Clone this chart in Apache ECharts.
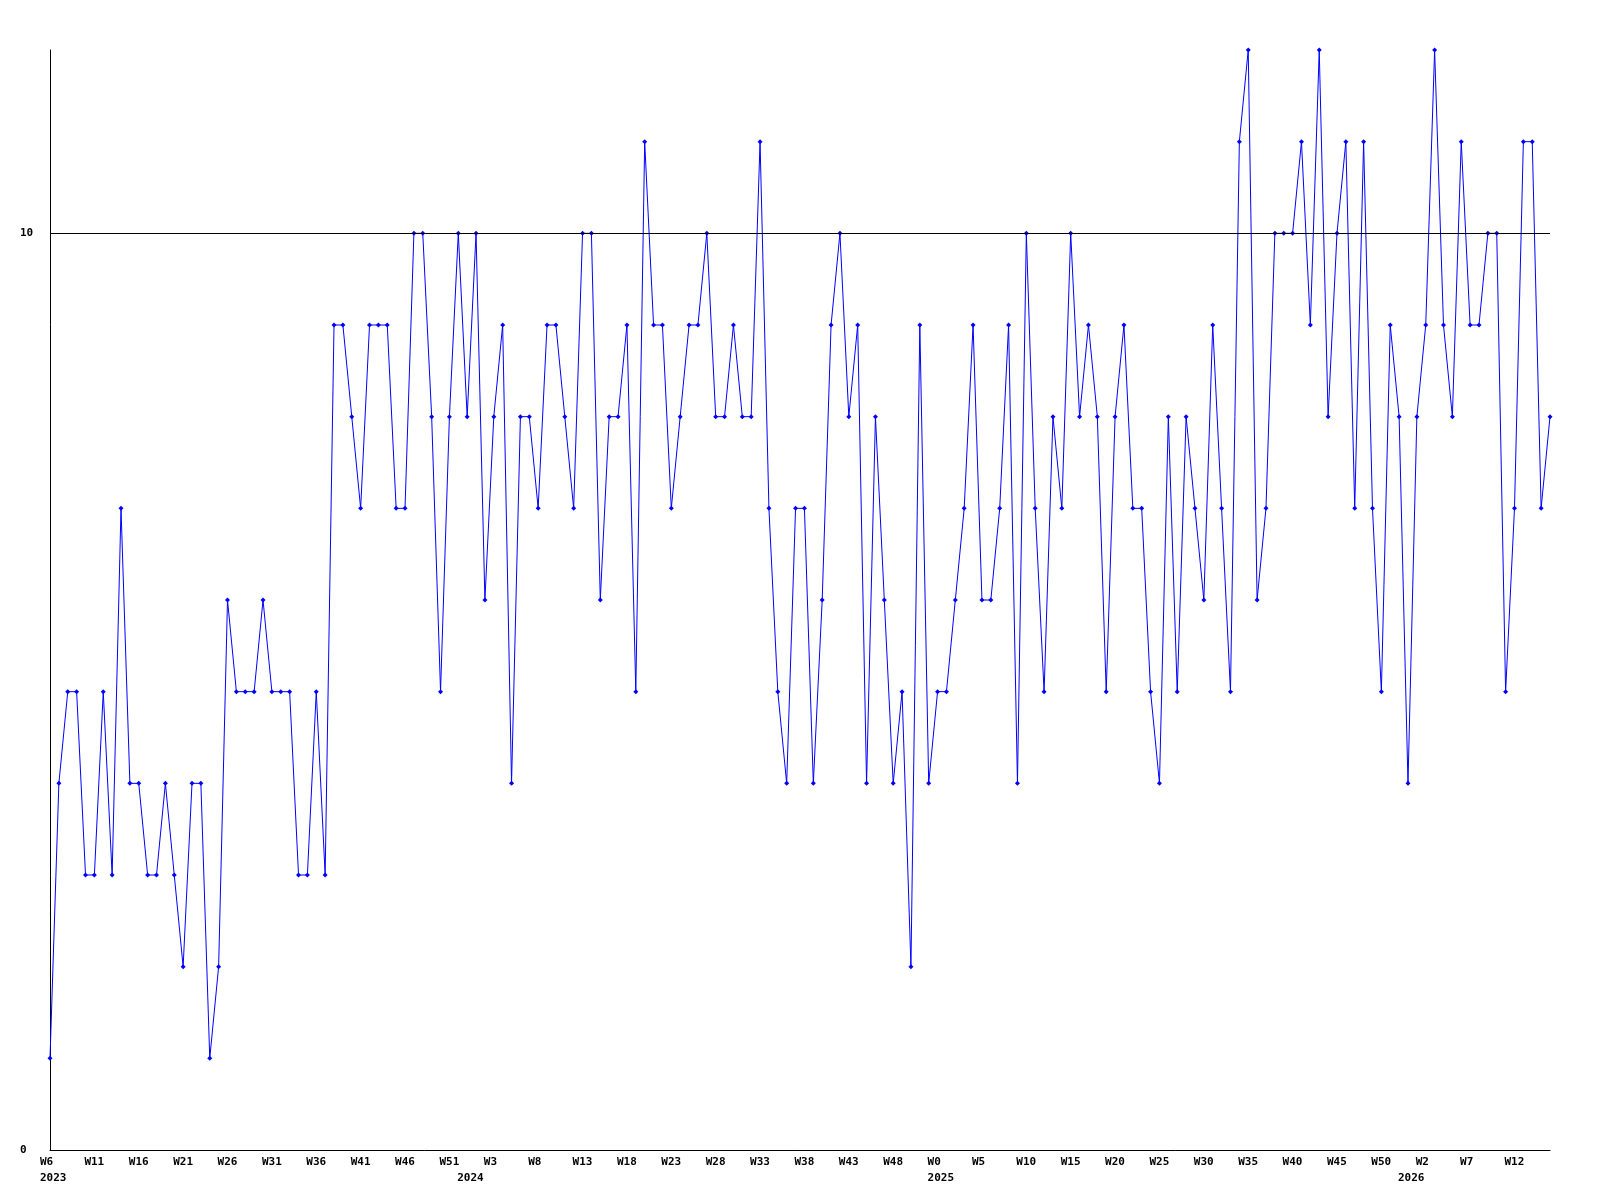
<!DOCTYPE html>
<html>
<head>
<meta charset="utf-8">
<script src="https://cdn.jsdelivr.net/npm/echarts@6/dist/echarts.min.js"></script>
<style>
  html, body { margin: 0; background: #fff; }
  #chart { width: 1600px; height: 1200px; }
</style>
</head>
<body>
<div id="chart"></div>
<script>
// weeks per year: [year, first week, last week]
const yearWeeks = [[2023, 6, 52], [2024, 0, 52], [2025, 0, 52], [2026, 0, 16]];
const values = [
  1, 4, 5, 5, 3, 3, 5, 3, 7, 4, 4, 3, 3, 4, 3, 2, 4, 4, 1, 2, 6, 5,
  5, 5, 6, 5, 5, 5, 3, 3, 5, 3, 9, 9, 8, 7, 9, 9, 9, 7, 7, 10, 10,
  8, 5, 8, 10, 8, 10, 6, 8, 9, 4, 8, 8, 7, 9, 9, 8, 7, 10, 10, 6, 8, 8,
  9, 5, 11, 9, 9, 7, 8, 9, 9, 10, 8, 8, 9, 8, 8, 11, 7, 5, 4, 7, 7,
  4, 6, 9, 10, 8, 9, 4, 8, 6, 4, 5, 2, 9, 4, 5, 5, 6, 7, 9, 6, 6,
  7, 9, 4, 10, 7, 5, 8, 7, 10, 8, 9, 8, 5, 8, 9, 7, 7, 5, 4, 8, 5, 8,
  7, 6, 9, 7, 5, 11, 12, 6, 7, 10, 10, 10, 11, 9, 12, 8, 10, 11, 7, 11, 7,
  5, 9, 8, 4, 8, 9, 12, 9, 8, 11, 9, 9, 10, 10, 5, 7, 11, 11, 7, 8
];
const yTickLabels = [0, 10];
const limitLine = 10;

const weeks = [];
const years = [];
yearWeeks.forEach(([y, from, to]) => {
  for (let w = from; w <= to; w++) {
    weeks.push('W' + w);
    years.push(w === from ? String(y) : '');
  }
});

const font = { fontFamily: 'DejaVu Sans Mono', fontSize: 11, fontWeight: 'bold', color: '#000' };
// labels start a little left of their tick
const shifted = { align: 'left', padding: [0, 0, 0, -10] };

const chart = echarts.init(document.getElementById('chart'));
chart.setOption({
  animation: false,
  backgroundColor: '#fff',
  grid: { left: 50, right: 50, top: 50, bottom: 50 },
  xAxis: [
    {
      type: 'category',
      data: weeks,
      boundaryGap: false,
      axisLine: { lineStyle: { color: '#000', width: 1 } },
      axisTick: { show: false },
      splitLine: { show: false },
      axisLabel: Object.assign({ interval: 4, margin: 7 }, shifted, font)
    },
    {
      type: 'category',
      position: 'bottom',
      data: years,
      boundaryGap: false,
      axisLine: { show: false },
      axisTick: { show: false },
      splitLine: { show: false },
      axisLabel: Object.assign({ interval: (i, v) => v !== '', margin: 23 }, shifted, font)
    }
  ],
  yAxis: {
    type: 'value',
    min: 0,
    max: 12,
    interval: 10,
    axisLine: { show: true, lineStyle: { color: '#000', width: 1 } },
    axisTick: { show: false },
    splitLine: { show: false },
    axisLabel: Object.assign({
      align: 'left',
      margin: 30,
      formatter: v => (yTickLabels.includes(v) ? String(v) : '')
    }, font)
  },
  series: [{
    type: 'line',
    data: values,
    xAxisIndex: 0,
    symbol: 'diamond',
    symbolSize: 5,
    showAllSymbol: true,
    lineStyle: { color: '#0000ff', width: 1 },
    itemStyle: { color: '#0000ff' },
    markLine: {
      silent: true,
      symbol: 'none',
      label: { show: false },
      lineStyle: { color: '#000', width: 1, type: 'solid' },
      data: [{ yAxis: limitLine }]
    }
  }]
});
</script>
</body>
</html>
